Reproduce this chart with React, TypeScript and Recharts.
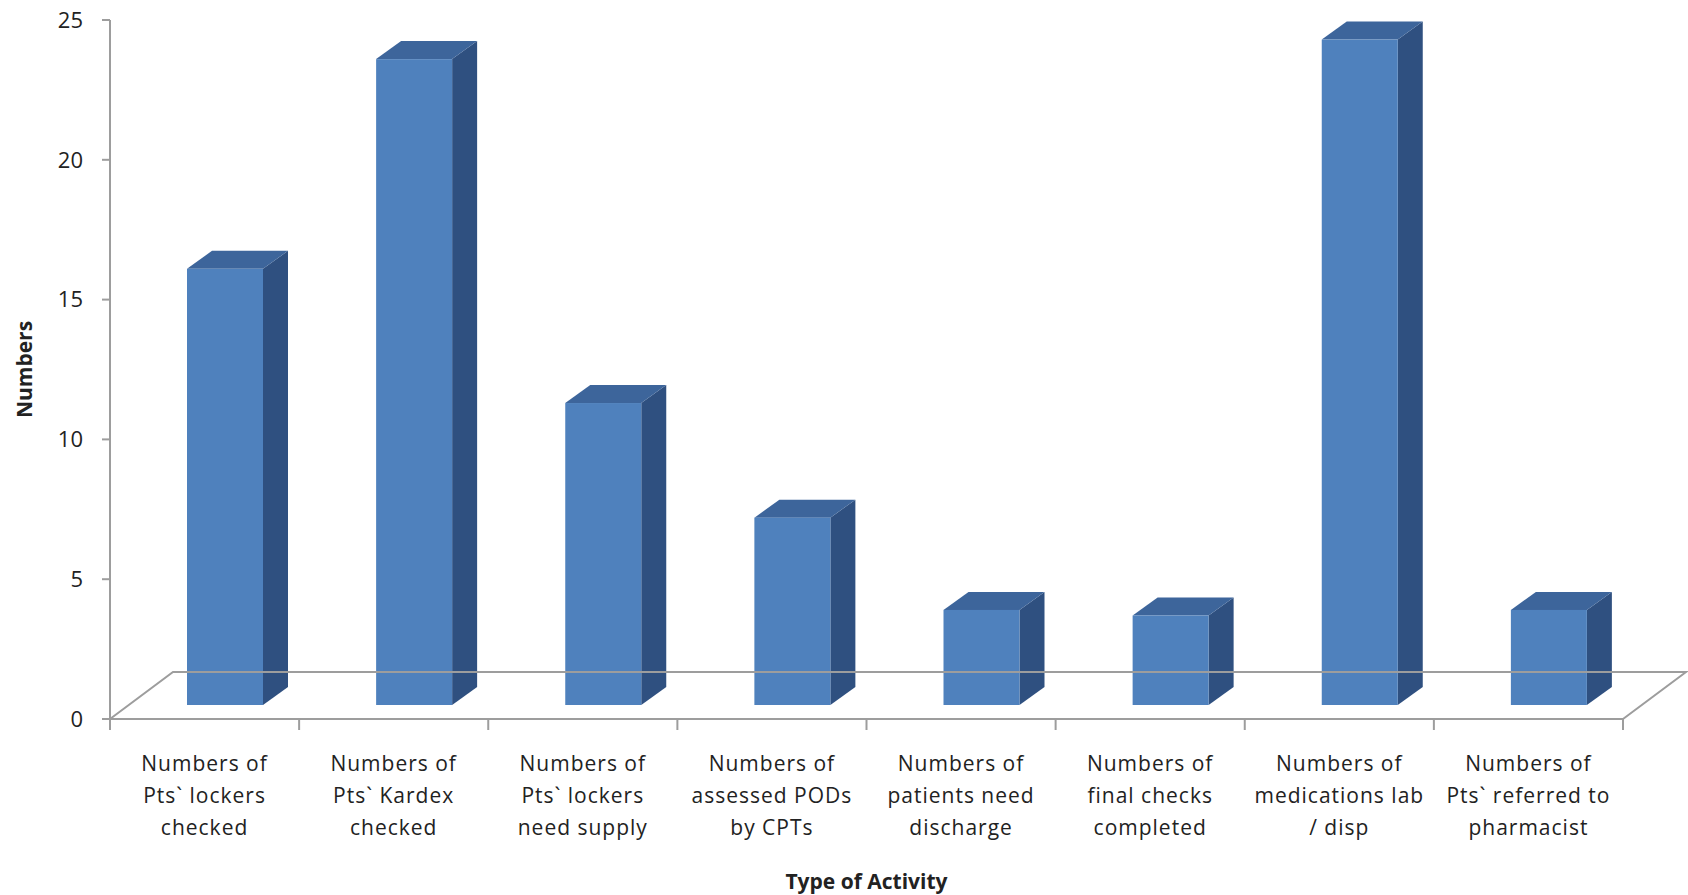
import { BarChart, Bar, XAxis, YAxis } from "recharts";

const CATEGORIES = [
  "Numbers of\nPts` lockers\nchecked",
  "Numbers of\nPts` Kardex\nchecked",
  "Numbers of\nPts` lockers\nneed supply",
  "Numbers of\nassessed PODs\nby CPTs",
  "Numbers of\npatients need\ndischarge",
  "Numbers of\nfinal checks\ncompleted",
  "Numbers of\nmedications lab\n/ disp",
  "Numbers of\nPts` referred to\npharmacist",
];

const VALUES = [15.6, 23.1, 10.8, 6.7, 3.4, 3.2, 23.8, 3.4];

const Y_TICKS = [0, 5, 10, 15, 20, 25];

const data = CATEGORIES.map((name, i) => ({ name, value: VALUES[i] }));

const W = 1688;
const H = 895;
const MARGIN = { top: 20, right: 65, bottom: 0, left: 10 };
const Y_AXIS_W = 100;
const X_AXIS_H = 176;
const PLOT_W = W - MARGIN.left - Y_AXIS_W - MARGIN.right;
const BAND = PLOT_W / CATEGORIES.length;

// oblique 3d offsets
const FLOOR_DX = 63;
const FLOOR_DY = 47;
const OFF_X = 20;
const OFF_Y = 14;
const DEPTH_X = 25;
const DEPTH_Y = 18;

const FRONT = "#4F81BD";
const TOP = "#3D659B";
const SIDE = "#2F5080";
const AXIS = "#9d9d9d";
const TEXT = "#222";
const FONT = "'Open Sans', sans-serif";

function Bar3D(props: any) {
  const { x, y, width, height } = props;
  const fx = x + OFF_X;
  const fy = y - OFF_Y;
  const fw = width;
  const fh = height;
  return (
    <g>
      <polygon
        points={`${fx + fw},${fy} ${fx + fw + DEPTH_X},${fy - DEPTH_Y} ${fx + fw + DEPTH_X},${fy + fh - DEPTH_Y} ${fx + fw},${fy + fh}`}
        fill={SIDE}
      />
      <polygon
        points={`${fx},${fy} ${fx + DEPTH_X},${fy - DEPTH_Y} ${fx + fw + DEPTH_X},${fy - DEPTH_Y} ${fx + fw},${fy}`}
        fill={TOP}
      />
      <rect x={fx} y={fy} width={fw} height={fh} fill={FRONT} />
    </g>
  );
}

function XTick(props: any) {
  const { x, y, payload, index } = props;
  const lines = String(payload.value).split("\n");
  const left = x - BAND / 2;
  const right = x + BAND / 2;
  const end = left + BAND * CATEGORIES.length;
  return (
    <g>
      {index === 0 && (
        <polyline
          points={`${left},${y} ${left + FLOOR_DX},${y - FLOOR_DY} ${end + FLOOR_DX},${y - FLOOR_DY} ${end},${y}`}
          fill="none"
          stroke={AXIS}
          strokeWidth={2}
        />
      )}
      <line x1={left} y1={y} x2={left} y2={y + 11} stroke={AXIS} strokeWidth={2} />
      {index === CATEGORIES.length - 1 && (
        <line x1={right} y1={y} x2={right} y2={y + 11} stroke={AXIS} strokeWidth={2} />
      )}
      {lines.map((line, i) => (
        <text
          key={i}
          x={x}
          y={y + 52 + i * 32}
          textAnchor="middle"
          fontSize={21}
          letterSpacing={1}
          fontFamily={FONT}
          fill={TEXT}
        >
          {line}
        </text>
      ))}
    </g>
  );
}

export default function App() {
  return (
    <div style={{ width: W, height: H, background: "#fff" }}>
      <style>{`body{margin:0}`}</style>
      <BarChart width={W} height={H} data={data} margin={MARGIN}>
        <XAxis
          dataKey="name"
          interval={0}
          height={X_AXIS_H}
          tickLine={false}
          tickSize={0}
          tickMargin={0}
          axisLine={{ stroke: AXIS, strokeWidth: 2 }}
          tick={<XTick />}
          label={{
            value: "Type of Activity",
            position: "insideBottom",
            offset: 6,
            fontSize: 21,
            fontWeight: 700,
            fontFamily: FONT,
            fill: TEXT,
          }}
        />
        <YAxis
          width={Y_AXIS_W}
          domain={[0, 25]}
          ticks={Y_TICKS}
          interval={0}
          tickSize={8}
          tickMargin={19}
          axisLine={{ stroke: AXIS, strokeWidth: 2 }}
          tickLine={{ stroke: AXIS, strokeWidth: 2 }}
          tick={{ fontSize: 22, fontFamily: FONT, fill: TEXT }}
          label={{
            value: "Numbers",
            angle: -90,
            position: "insideLeft",
            offset: 15,
            fontSize: 21,
            fontWeight: 700,
            fontFamily: FONT,
            fill: TEXT,
            style: { textAnchor: "middle" },
          }}
        />
        <Bar dataKey="value" barSize={76} shape={<Bar3D />} isAnimationActive={false} />
      </BarChart>
    </div>
  );
}
